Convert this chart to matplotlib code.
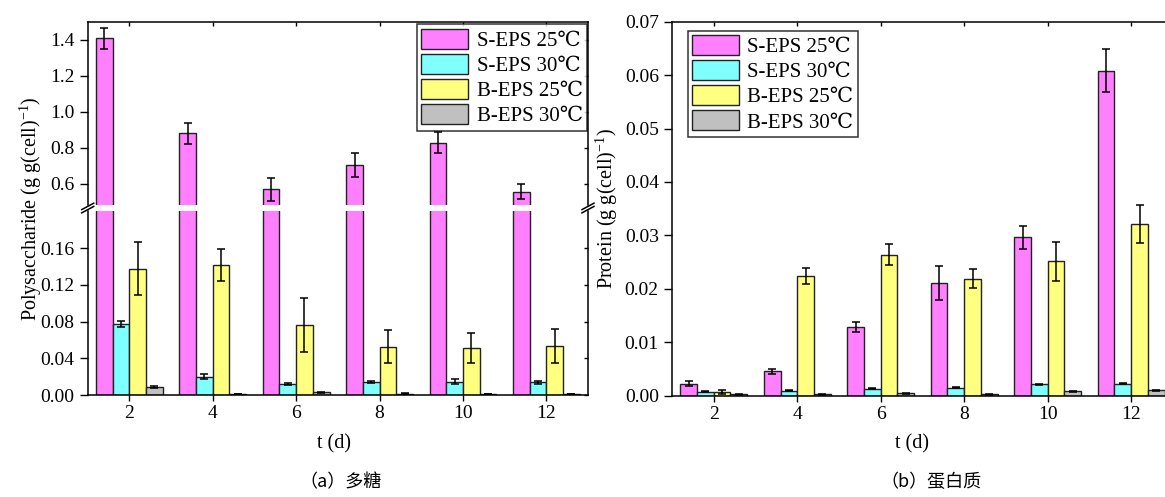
import matplotlib
matplotlib.use("Agg")
import matplotlib.pyplot as plt
import numpy as np

plt.rcParams['font.family'] = ['Liberation Serif', 'DejaVu Serif', 'Noto Sans CJK SC']
plt.rcParams['mathtext.fontset'] = 'custom'
plt.rcParams['mathtext.rm'] = 'Liberation Serif'

# sampling days
days = np.array([2, 4, 6, 8, 10, 12])
series_names = ['S-EPS 25℃', 'S-EPS 30℃', 'B-EPS 25℃', 'B-EPS 30℃']
colors = ['#FF80FF', '#80FFFF', '#FFFF80', '#C0C0C0']

# polysaccharide (g g(cell)^-1)
ps_s25 = [1.408, 0.880, 0.569, 0.704, 0.828, 0.556]
ps_s25_err = [0.057, 0.058, 0.065, 0.067, 0.058, 0.040]
ps_s30 = [0.0774, 0.0200, 0.0117, 0.0138, 0.0145, 0.0138]
ps_s30_err = [0.0035, 0.003, 0.001, 0.001, 0.003, 0.0015]
ps_b25 = [0.1377, 0.1417, 0.0763, 0.0527, 0.0512, 0.0534]
ps_b25_err = [0.029, 0.017, 0.029, 0.018, 0.016, 0.018]
ps_b30 = [0.0090, 0.0010, 0.0030, 0.0015, 0.0010, 0.0010]
ps_b30_err = [0.001, 0.0003, 0.0005, 0.0005, 0.0003, 0.0003]

# protein (g g(cell)^-1)
pr_s25 = [0.0022, 0.0045, 0.0128, 0.0211, 0.0296, 0.0608]
pr_s25_err = [0.0005, 0.0005, 0.0009, 0.0032, 0.0022, 0.0040]
pr_s30 = [0.0007, 0.0009, 0.0013, 0.0015, 0.0021, 0.0022]
pr_s30_err = [0.0001, 0.0001, 0.0001, 0.0001, 0.0001, 0.0001]
pr_b25 = [0.0006, 0.0224, 0.0264, 0.0219, 0.0251, 0.0321]
pr_b25_err = [0.0004, 0.0015, 0.0020, 0.0018, 0.0036, 0.0035]
pr_b30 = [0.0002, 0.0002, 0.0004, 0.0002, 0.0008, 0.0010]
pr_b30_err = [0.0001, 0.0001, 0.0001, 0.0001, 0.0001, 0.0001]

ps_vals = [ps_s25, ps_s30, ps_b25, ps_b30]
ps_errs = [ps_s25_err, ps_s30_err, ps_b25_err, ps_b30_err]
pr_vals = [pr_s25, pr_s30, pr_b25, pr_b30]
pr_errs = [pr_s25_err, pr_s30_err, pr_b25_err, pr_b30_err]

bar_w = 0.4
tick_fs = 14
label_fs = 14.5
legend_fs = 15


def draw_bars(ax, vals, errs):
    handles = []
    for i, (v, e) in enumerate(zip(vals, errs)):
        x = days + (i - 1.5) * bar_w
        b = ax.bar(x, v, width=bar_w, color=colors[i], edgecolor='#222222',
                   linewidth=1.0, label=series_names[i])
        ax.errorbar(x, v, yerr=e, fmt='none', ecolor='black', elinewidth=1.1,
                    capsize=2.6, capthick=1.1)
        handles.append(b)
    return handles


def style_axis(ax):
    ax.set_xlim(1, 13)
    ax.tick_params(axis='y', which='both', direction='out', length=6, width=1,
                   labelsize=tick_fs, right=True)
    ax.tick_params(axis='x', direction='out', length=4, width=1, labelsize=tick_fs, top=True)
    for s in ax.spines.values():
        s.set_linewidth(1.1)


def add_legend(ax, handles, **kw):
    leg = ax.legend(handles=handles, fontsize=legend_fs, frameon=True, fancybox=False,
                    edgecolor='black', handlelength=2.25, handleheight=1.1,
                    labelspacing=0.15, borderpad=0.2, handletextpad=0.4,
                    borderaxespad=0.0, **kw)
    leg.get_frame().set_linewidth(1.1)
    return leg


fig = plt.figure(figsize=(11.65, 4.97), dpi=100)

# ---- (a) polysaccharide, broken y axis ----
ax_top = fig.add_axes([0.0753, 0.5875, 0.4294, 0.3688])
ax_bot = fig.add_axes([0.0753, 0.2052, 0.4294, 0.3702])

handles = draw_bars(ax_top, ps_vals, ps_errs)
draw_bars(ax_bot, ps_vals, ps_errs)

for ax in (ax_top, ax_bot):
    style_axis(ax)
    ax.set_xticks(days)

ax_top.set_ylim(0.482, 1.5)
ax_top.set_yticks([0.6, 0.8, 1.0, 1.2, 1.4])
ax_top.set_yticklabels(['0.6', '0.8', '1.0', '1.2', '1.4'])
ax_top.spines['bottom'].set_visible(False)
ax_top.tick_params(axis='x', bottom=False, labelbottom=False, direction='in', length=3)

ax_bot.set_ylim(0, 0.2005)
ax_bot.set_yticks([0, 0.04, 0.08, 0.12, 0.16])
ax_bot.set_yticklabels(['0.00', '0.04', '0.08', '0.12', '0.16'])
ax_bot.spines['top'].set_visible(False)
ax_bot.tick_params(axis='x', top=False)
ax_bot.set_xticklabels([str(d) for d in days])

for ax in (ax_top, ax_bot):
    # inward ticks on the mirrored right spine
    for t in ax.yaxis.get_major_ticks():
        t.tick2line.set_marker(matplotlib.lines.TICKLEFT)
        t.tick2line.set_markersize(3)

# break marks on both spines
kw = dict(color='black', linewidth=1.1, clip_on=False)
for xs in (0, 1):
    ax_top.plot([xs - 0.012, xs + 0.012], [-0.025, 0.01], transform=ax_top.transAxes, **kw)
    ax_bot.plot([xs - 0.012, xs + 0.012], [0.99, 1.025], transform=ax_bot.transAxes, **kw)

add_legend(ax_top, handles, loc='upper right', bbox_to_anchor=(0.998, 0.985))

fig.text(0.026, 0.58, 'Polysaccharide (g g(cell)$^{-1}$)', rotation=90,
         ha='center', va='center', fontsize=label_fs)
fig.text(0.287, 0.106, 't (d)', ha='center', va='center', fontsize=label_fs)
fig.text(0.2920, 0.03, '（a）多糖', ha='center', va='center', fontsize=13,
         family=['Noto Sans CJK SC', 'DejaVu Sans'])

# ---- (b) protein ----
ax_pr = fig.add_axes([0.5768, 0.2042, 0.430, 0.7521])
handles_b = draw_bars(ax_pr, pr_vals, pr_errs)
style_axis(ax_pr)
ax_pr.set_xticks(days)
ax_pr.set_ylim(0, 0.07)
ax_pr.set_yticks(np.arange(0, 0.0701, 0.01))
ax_pr.set_yticklabels(['0.00', '0.01', '0.02', '0.03', '0.04', '0.05', '0.06', '0.07'])
for t in ax_pr.xaxis.get_major_ticks():
    t.tick2line.set_marker(matplotlib.lines.TICKDOWN)
    t.tick2line.set_markersize(3)

add_legend(ax_pr, handles_b, loc='upper left', bbox_to_anchor=(0.032, 0.976))

fig.text(0.521, 0.58, 'Protein (g g(cell)$^{-1}$)', rotation=90,
         ha='center', va='center', fontsize=label_fs)
fig.text(0.783, 0.106, 't (d)', ha='center', va='center', fontsize=label_fs)
fig.text(0.799, 0.03, '（b）蛋白质', ha='center', va='center', fontsize=13,
         family=['Noto Sans CJK SC', 'DejaVu Sans'])

fig.savefig('out.png', dpi=100)
